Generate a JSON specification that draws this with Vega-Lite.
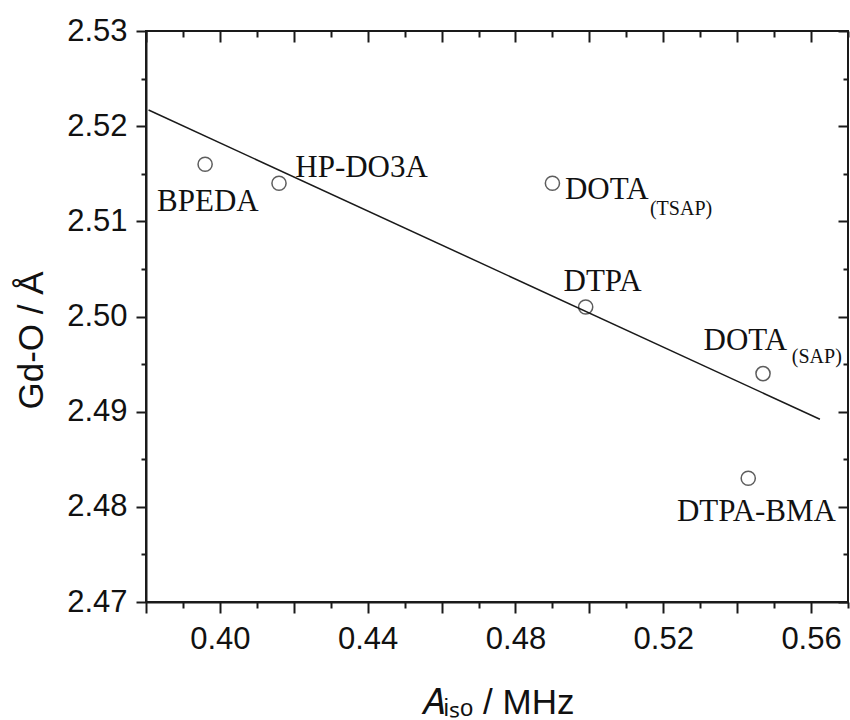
{
  "$schema": "https://vega.github.io/schema/vega-lite/v6.json",
  "width": 702,
  "height": 571,
  "autosize": "none",
  "padding": {"left": 146, "top": 31, "right": 2, "bottom": 118},
  "background": "white",
  "config": {"view": {"stroke": "#1a1a1a", "strokeWidth": 2}},
  "datasets": {
    "points": [
      {"complex": "BPEDA", "x": 0.396, "y": 2.516},
      {"complex": "HP-DO3A", "x": 0.416, "y": 2.514},
      {"complex": "DOTA(TSAP)", "x": 0.490, "y": 2.514},
      {"complex": "DTPA", "x": 0.499, "y": 2.501},
      {"complex": "DOTA(SAP)", "x": 0.547, "y": 2.494},
      {"complex": "DTPA-BMA", "x": 0.543, "y": 2.483}
    ],
    "fit": [
      {"x": 0.3807, "y": 2.5217},
      {"x": 0.5624, "y": 2.4892}
    ],
    "labels": [
      {"label": "BPEDA", "x": 0.3830, "y": 2.5111},
      {"label": "HP-DO3A", "x": 0.4204, "y": 2.5147},
      {"label": "DOTA", "x": 0.4934, "y": 2.5123},
      {"label": "DTPA", "x": 0.4930, "y": 2.5027},
      {"label": "DOTA", "x": 0.5309, "y": 2.4965},
      {"label": "DTPA-BMA", "x": 0.5237, "y": 2.4785}
    ],
    "subs": [
      {"label": "(TSAP)", "x": 0.5164, "y": 2.5107},
      {"label": "(SAP)", "x": 0.5548, "y": 2.4951}
    ]
  },
  "layer": [
    {
      "data": {"name": "points"},
      "mark": {"type": "point", "shape": "circle", "filled": false, "size": 200, "strokeWidth": 1.5, "color": "#1a1a1a"},
      "encoding": {
        "x": {
          "field": "x", "type": "quantitative",
          "scale": {"domain": [0.38, 0.57], "nice": false, "zero": false},
          "axis": {
            "orient": "bottom",
            "values": [0.38, 0.40, 0.42, 0.44, 0.46, 0.48, 0.50, 0.52, 0.54, 0.56],
            "labelExpr": "abs(round(datum.value*100)%4)==0 ? format(datum.value,'.2f') : ''",
            "tickSize": 11, "tickWidth": 2, "tickColor": "#1a1a1a",
            "domain": true, "domainWidth": 2, "domainColor": "#1a1a1a",
            "grid": false,
            "labelFont": "Liberation Sans", "labelFontSize": 31, "labelColor": "#111",
            "labelPadding": 11, "labelFlush": false, "labelOverlap": false,
            "title": "𝐴ᵢₛₒ / MHz",
            "titleFont": "Liberation Sans", "titleFontSize": 35, "titleFontWeight": "normal",
            "titleColor": "#111", "titlePadding": 31
          }
        },
        "y": {
          "field": "y", "type": "quantitative",
          "scale": {"domain": [2.47, 2.53], "nice": false, "zero": false},
          "axis": {
            "orient": "left",
            "values": [2.47, 2.48, 2.49, 2.50, 2.51, 2.52, 2.53],
            "format": ".2f",
            "tickSize": 10, "tickWidth": 2, "tickColor": "#1a1a1a",
            "domain": true, "domainWidth": 2, "domainColor": "#1a1a1a",
            "grid": false,
            "labelFont": "Liberation Sans", "labelFontSize": 31, "labelColor": "#111",
            "labelPadding": 9, "labelFlush": false, "labelOverlap": false,
            "title": "Gd-O / Å",
            "titleFont": "Liberation Sans", "titleFontSize": 35, "titleFontWeight": "normal",
            "titleColor": "#111", "titlePadding": 17, "titleY": 309
          }
        }
      }
    },
    {
      "data": {"name": "fit"},
      "mark": {"type": "line", "color": "#1a1a1a", "strokeWidth": 1.5},
      "encoding": {
        "x": {
          "field": "x", "type": "quantitative",
          "scale": {"domain": [0.38, 0.57], "nice": false, "zero": false},
          "axis": {
            "orient": "bottom",
            "values": [0.39, 0.41, 0.43, 0.45, 0.47, 0.49, 0.51, 0.53, 0.55, 0.57],
            "tickSize": 6, "tickWidth": 2, "tickColor": "#1a1a1a",
            "labels": false, "domain": false, "grid": false, "title": null
          }
        },
        "y": {
          "field": "y", "type": "quantitative",
          "scale": {"domain": [2.47, 2.53], "nice": false, "zero": false},
          "axis": {
            "orient": "left",
            "values": [2.475, 2.485, 2.495, 2.505, 2.515, 2.525],
            "tickSize": 5, "tickWidth": 2, "tickColor": "#1a1a1a",
            "labels": false, "domain": false, "grid": false, "title": null
          }
        }
      }
    },
    {
      "data": {"name": "labels"},
      "mark": {"type": "text", "font": "Liberation Serif", "fontSize": 31, "align": "left", "baseline": "alphabetic", "color": "#111"},
      "encoding": {
        "text": {"field": "label"},
        "x": {
          "field": "x", "type": "quantitative",
          "scale": {"domain": [0.38, 0.57], "nice": false, "zero": false},
          "axis": {
            "orient": "top", "offset": -11,
            "values": [0.38, 0.40, 0.42, 0.44, 0.46, 0.48, 0.50, 0.52, 0.54, 0.56],
            "ticks": true, "tickSize": 11, "tickWidth": 2, "tickColor": "#1a1a1a",
            "labels": false, "domain": false, "grid": false, "title": null
          }
        },
        "y": {
          "field": "y", "type": "quantitative",
          "scale": {"domain": [2.47, 2.53], "nice": false, "zero": false},
          "axis": {
            "orient": "right", "offset": -10,
            "values": [2.47, 2.48, 2.49, 2.50, 2.51, 2.52, 2.53],
            "ticks": true, "tickSize": 10, "tickWidth": 2, "tickColor": "#1a1a1a",
            "labels": false, "domain": false, "grid": false, "title": null
          }
        }
      }
    },
    {
      "data": {"name": "subs"},
      "mark": {"type": "text", "font": "Liberation Serif", "fontSize": 20, "align": "left", "baseline": "alphabetic", "color": "#111"},
      "encoding": {
        "text": {"field": "label"},
        "x": {
          "field": "x", "type": "quantitative",
          "scale": {"domain": [0.38, 0.57], "nice": false, "zero": false},
          "axis": {
            "orient": "top", "offset": -6,
            "values": [0.39, 0.41, 0.43, 0.45, 0.47, 0.49, 0.51, 0.53, 0.55, 0.57],
            "ticks": true, "tickSize": 6, "tickWidth": 2, "tickColor": "#1a1a1a",
            "labels": false, "domain": false, "grid": false, "title": null
          }
        },
        "y": {
          "field": "y", "type": "quantitative",
          "scale": {"domain": [2.47, 2.53], "nice": false, "zero": false},
          "axis": {
            "orient": "right", "offset": -5,
            "values": [2.475, 2.485, 2.495, 2.505, 2.515, 2.525],
            "ticks": true, "tickSize": 5, "tickWidth": 2, "tickColor": "#1a1a1a",
            "labels": false, "domain": false, "grid": false, "title": null
          }
        }
      }
    }
  ],
  "resolve": {"axis": {"x": "independent", "y": "independent"}}
}
